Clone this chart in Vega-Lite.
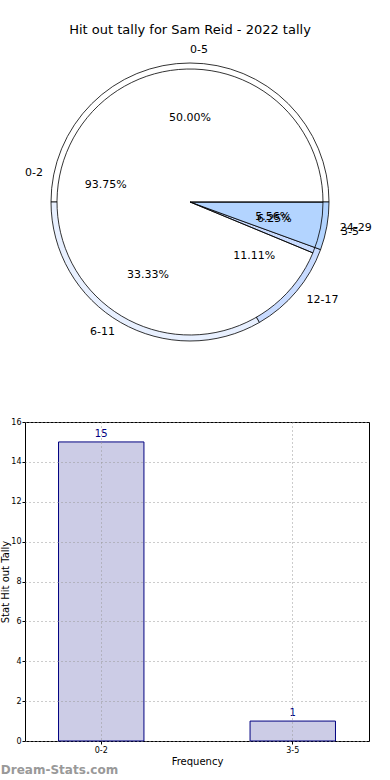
{
  "$schema": "https://vega.github.io/schema/vega-lite/v6.json",
  "padding": {"left": 0, "top": 24, "right": 0, "bottom": 0},
  "config": {"font": "DejaVu Sans", "view": {"stroke": null}},
  "spacing": 72,
  "datasets": {
    "tally": [
      {"label": "0-2", "pct": 0.9375, "ord": 1},
      {"label": "3-5", "pct": 0.0625, "ord": 2}
    ],
    "ranges": [
      {"label": "0-5", "pct": 0.5, "ord": 1},
      {"label": "6-11", "pct": 0.3333, "ord": 2},
      {"label": "12-17", "pct": 0.1111, "ord": 3},
      {"label": "24-29", "pct": 0.0556, "ord": 4}
    ],
    "bars": [
      {"range": "0-2", "count": 15},
      {"range": "3-5", "count": 1}
    ]
  },
  "vconcat": [
    {
      "width": 330,
      "height": 286,
      "title": {"text": "Hit out tally for Sam Reid - 2022 tally", "fontSize": 13, "fontWeight": "normal", "anchor": "middle", "offset": 7, "color": "black"},
      "layer": [
        {
          "data": {"name": "ranges"},
          "mark": {"type": "arc", "outerRadius": 139, "stroke": "black", "strokeWidth": 0.8},
          "encoding": {
            "theta": {"field": "pct", "type": "quantitative", "stack": "normalize", "scale": {"range": [1.5708, -4.7124]}},
            "order": {"field": "ord"},
            "color": {"field": "label", "type": "nominal", "legend": null,
              "scale": {"domain": ["0-2", "3-5", "0-5", "6-11", "12-17", "24-29"], "range": ["#ffffff", "#ffffff", "#ffffff", "#e8f0ff", "#c8dbff", "#b3d4ff"]}}
          }
        },
        {
          "data": {"name": "tally"},
          "mark": {"type": "arc", "outerRadius": 133, "stroke": "black", "strokeWidth": 0.8},
          "encoding": {
            "theta": {"field": "pct", "type": "quantitative", "stack": "normalize", "scale": {"range": [1.5708, -4.7124]}},
            "order": {"field": "ord"},
            "color": {"field": "label", "type": "nominal", "legend": null},
            "fillOpacity": {"condition": {"test": "datum.label === '3-5'", "value": 0}, "value": 1}
          }
        },
        {
          "data": {"name": "ranges"},
          "mark": {"type": "text", "radius": 152, "fontSize": 11, "color": "black", "align": "left"},
          "encoding": {
            "theta": {"field": "pct", "type": "quantitative", "stack": "normalize", "scale": {"range": [1.5708, -4.7124]}},
            "order": {"field": "ord"},
            "text": {"condition": {"test": "datum.label !== '6-11'", "field": "label"}, "value": ""}
          }
        },
        {
          "data": {"name": "ranges"},
          "mark": {"type": "text", "radius": 150, "fontSize": 11, "color": "black", "align": "right"},
          "encoding": {
            "theta": {"field": "pct", "type": "quantitative", "stack": "normalize", "scale": {"range": [1.5708, -4.7124]}},
            "order": {"field": "ord"},
            "text": {"condition": {"test": "datum.label === '6-11'", "field": "label"}, "value": ""}
          }
        },
        {
          "data": {"name": "ranges"},
          "mark": {"type": "text", "radius": 84, "fontSize": 11, "color": "black"},
          "encoding": {
            "theta": {"field": "pct", "type": "quantitative", "stack": "normalize", "scale": {"range": [1.5708, -4.7124]}},
            "order": {"field": "ord"},
            "text": {"field": "pct", "format": ".2%"}
          }
        },
        {
          "data": {"name": "tally"},
          "mark": {"type": "text", "radius": 154, "fontSize": 11, "color": "black", "align": "left"},
          "encoding": {
            "theta": {"field": "pct", "type": "quantitative", "stack": "normalize", "scale": {"range": [1.5708, -4.7124]}},
            "order": {"field": "ord"},
            "text": {"condition": {"test": "datum.label === '3-5'", "field": "label"}, "value": ""}
          }
        },
        {
          "data": {"name": "tally"},
          "mark": {"type": "text", "radius": 150, "fontSize": 11, "color": "black", "align": "right"},
          "encoding": {
            "theta": {"field": "pct", "type": "quantitative", "stack": "normalize", "scale": {"range": [1.5708, -4.7124]}},
            "order": {"field": "ord"},
            "text": {"condition": {"test": "datum.label === '0-2'", "field": "label"}, "value": ""}
          }
        },
        {
          "data": {"name": "tally"},
          "mark": {"type": "text", "radius": 86, "fontSize": 11, "color": "black"},
          "encoding": {
            "theta": {"field": "pct", "type": "quantitative", "stack": "normalize", "scale": {"range": [1.5708, -4.7124]}},
            "order": {"field": "ord"},
            "text": {"field": "pct", "format": ".2%"}
          }
        }
      ]
    },
    {
      "width": 344,
      "height": 319,
      "data": {"name": "bars"},
      "title": {"text": "Dream-Stats.com", "orient": "bottom", "anchor": "start", "frame": "bounds", "color": "#999999", "fontSize": 12, "fontWeight": "bold", "offset": -1},
      "view": {"stroke": "black", "strokeWidth": 1},
      "encoding": {
        "x": {"field": "range", "type": "nominal",
          "scale": {"paddingInner": 0.554, "paddingOuter": 0.175},
          "axis": {"title": "Frequency", "labelAngle": 0, "labelFontSize": 8, "titleFontSize": 10, "titleFontWeight": "normal", "titlePadding": 2, "bandPosition": 0.5,
            "grid": true, "gridDash": [1, 3], "gridColor": "#999999", "domain": false, "tickSize": 3, "tickColor": "black", "zindex": 1}},
        "y": {"field": "count", "type": "quantitative",
          "scale": {"domain": [0, 16]},
          "axis": {"values": [0, 2, 4, 6, 8, 10, 12, 14, 16], "title": "Stat Hit out Tally", "labelFontSize": 8, "titleFontSize": 10, "titleFontWeight": "normal", "titlePadding": 0, "labelPadding": 1,
            "grid": true, "gridDash": [1, 3], "gridColor": "#999999", "domain": false, "tickSize": 3, "tickColor": "black", "zindex": 1}}
      },
      "layer": [
        {"mark": {"type": "bar", "fill": "#ccccE6", "stroke": "#000080", "strokeWidth": 1}},
        {"mark": {"type": "text", "dy": -8, "color": "#000080", "fontSize": 10},
          "encoding": {"text": {"field": "count", "type": "quantitative"}}}
      ]
    }
  ]
}
